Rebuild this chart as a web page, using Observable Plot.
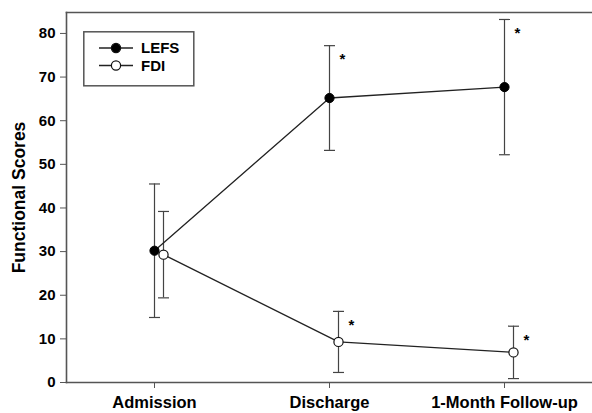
<!DOCTYPE html>
<html>
<head>
<meta charset="utf-8">
<script src="https://cdn.jsdelivr.net/npm/d3@7"></script>
<script src="https://cdn.jsdelivr.net/npm/@observablehq/plot@0.6"></script>
<style>
  html, body { margin: 0; padding: 0; background: #fff; }
  #wrap { position: relative; width: 592px; height: 413px; font-family: "Liberation Sans", Arial, sans-serif; }
  #legend { position: absolute; left: 83px; top: 31px; }
  g[aria-label="y-axis label"] text { font-size: 17.5px; font-weight: bold; }
  g[aria-label="y-axis tick label"] { font-size: 15px; font-weight: bold; }
  g[aria-label="x-axis tick label"] { font-size: 16.5px; font-weight: bold; }
</style>
</head>
<body>
<div id="wrap"></div>
<script>
const categories = ["Admission", "Discharge", "1-Month Follow-up"];
const lefsMean = [30.2, 65.2, 67.7];
const lefsSD = [15.3, 12.0, 15.5];
const fdiMean = [29.3, 9.3, 6.9];
const fdiSD = [9.9, 7.0, 6.0];
const lefsSig = [false, true, true];
const fdiSig = [false, true, true];
const yTicks = [0, 10, 20, 30, 40, 50, 60, 70, 80];
const yDomain = [0, 84.8];

const lefs = categories.map((c, i) => ({x: c, y: lefsMean[i], lo: lefsMean[i] - lefsSD[i], hi: lefsMean[i] + lefsSD[i], sig: lefsSig[i]}));
const fdi = categories.map((c, i) => ({x: c, y: fdiMean[i], lo: fdiMean[i] - fdiSD[i], hi: fdiMean[i] + fdiSD[i], sig: fdiSig[i]}));

const cap = {draw(ctx, size) { const r = Math.sqrt(size / Math.PI); ctx.moveTo(-r, 0); ctx.lineTo(r, 0); }};
const FDX = 9;
const barColor = "#444";
const lineColor = "#222";

const chart = Plot.plot({
  width: 592,
  height: 413,
  marginLeft: 66,
  marginRight: 0,
  marginTop: 12,
  marginBottom: 31,
  style: {fontFamily: "Liberation Sans, Arial, sans-serif", background: "#fff", color: "#000"},
  x: {type: "point", domain: categories, padding: 0.5},
  y: {domain: yDomain},
  marks: [
    Plot.frame({anchor: "left", stroke: "#555", strokeWidth: 1.6}),
    Plot.frame({anchor: "top", stroke: "#555", strokeWidth: 1.6}),
    Plot.frame({anchor: "bottom", stroke: "#555", strokeWidth: 1.6}),
    Plot.axisY({ticks: yTicks, tickSize: 6, tickPadding: 5, fontSize: 15, fontWeight: "bold", stroke: "#555", label: "Functional Scores", labelAnchor: "center", labelArrow: "none", labelOffset: 54}),
    Plot.axisX({tickSize: 6, tickPadding: 8, fontSize: 16.5, fontWeight: "bold", stroke: "#555", label: null}),
    // error bars LEFS
    Plot.ruleX(lefs, {x: "x", y1: "lo", y2: "hi", stroke: barColor, strokeWidth: 1.2}),
    Plot.dot(lefs, {x: "x", y: "hi", symbol: cap, r: 5.5, stroke: barColor, strokeWidth: 1.2}),
    Plot.dot(lefs, {x: "x", y: "lo", symbol: cap, r: 5.5, stroke: barColor, strokeWidth: 1.2}),
    // error bars FDI
    Plot.ruleX(fdi, {x: "x", y1: "lo", y2: "hi", dx: FDX, stroke: barColor, strokeWidth: 1.2}),
    Plot.dot(fdi, {x: "x", y: "hi", dx: FDX, symbol: cap, r: 5.5, stroke: barColor, strokeWidth: 1.2}),
    Plot.dot(fdi, {x: "x", y: "lo", dx: FDX, symbol: cap, r: 5.5, stroke: barColor, strokeWidth: 1.2}),
    // lines
    Plot.line(lefs, {x: "x", y: "y", stroke: lineColor, strokeWidth: 1.3}),
    Plot.line(fdi, {x: "x", y: "y", dx: FDX, stroke: lineColor, strokeWidth: 1.3}),
    // markers
    Plot.dot(lefs, {x: "x", y: "y", r: 4.6, fill: "#000", stroke: "#000", strokeWidth: 1}),
    Plot.dot(fdi, {x: "x", y: "y", dx: FDX, r: 4.6, fill: "#fff", stroke: "#111", strokeWidth: 1.2}),
    // significance
    Plot.text(lefs.filter(d => d.sig), {x: "x", y: "hi", text: () => "*", dx: 13, dy: 14, fontSize: 15, fontWeight: "bold", fill: "#000"}),
    Plot.text(fdi.filter(d => d.sig), {x: "x", y: "hi", text: () => "*", dx: 13 + FDX, dy: 14, fontSize: 15, fontWeight: "bold", fill: "#000"})
  ]
});

const wrap = document.getElementById("wrap");
wrap.appendChild(chart);

// legend overlay
const legendItems = [
  {label: "LEFS", fill: "#000"},
  {label: "FDI", fill: "#fff"}
];
const lg = d3.select(wrap).append("svg").attr("id", "legend").attr("width", 113).attr("height", 57);
lg.append("rect").attr("x", 0.8).attr("y", 0.8).attr("width", 110).attr("height", 54)
  .attr("fill", "#fff").attr("stroke", "#555").attr("stroke-width", 1.5);
legendItems.forEach((d, i) => {
  const g = lg.append("g").attr("transform", `translate(0,${17 + i * 17.5})`);
  g.append("line").attr("x1", 16).attr("x2", 50).attr("stroke", lineColor).attr("stroke-width", 1.3);
  g.append("circle").attr("cx", 33).attr("r", 4.6).attr("fill", d.fill).attr("stroke", "#111").attr("stroke-width", 1.2);
  g.append("text").attr("x", 58).attr("dy", "0.36em").text(d.label)
    .attr("font-family", "Liberation Sans, Arial, sans-serif").attr("font-weight", "bold").attr("font-size", 15);
});
</script>
</body>
</html>
